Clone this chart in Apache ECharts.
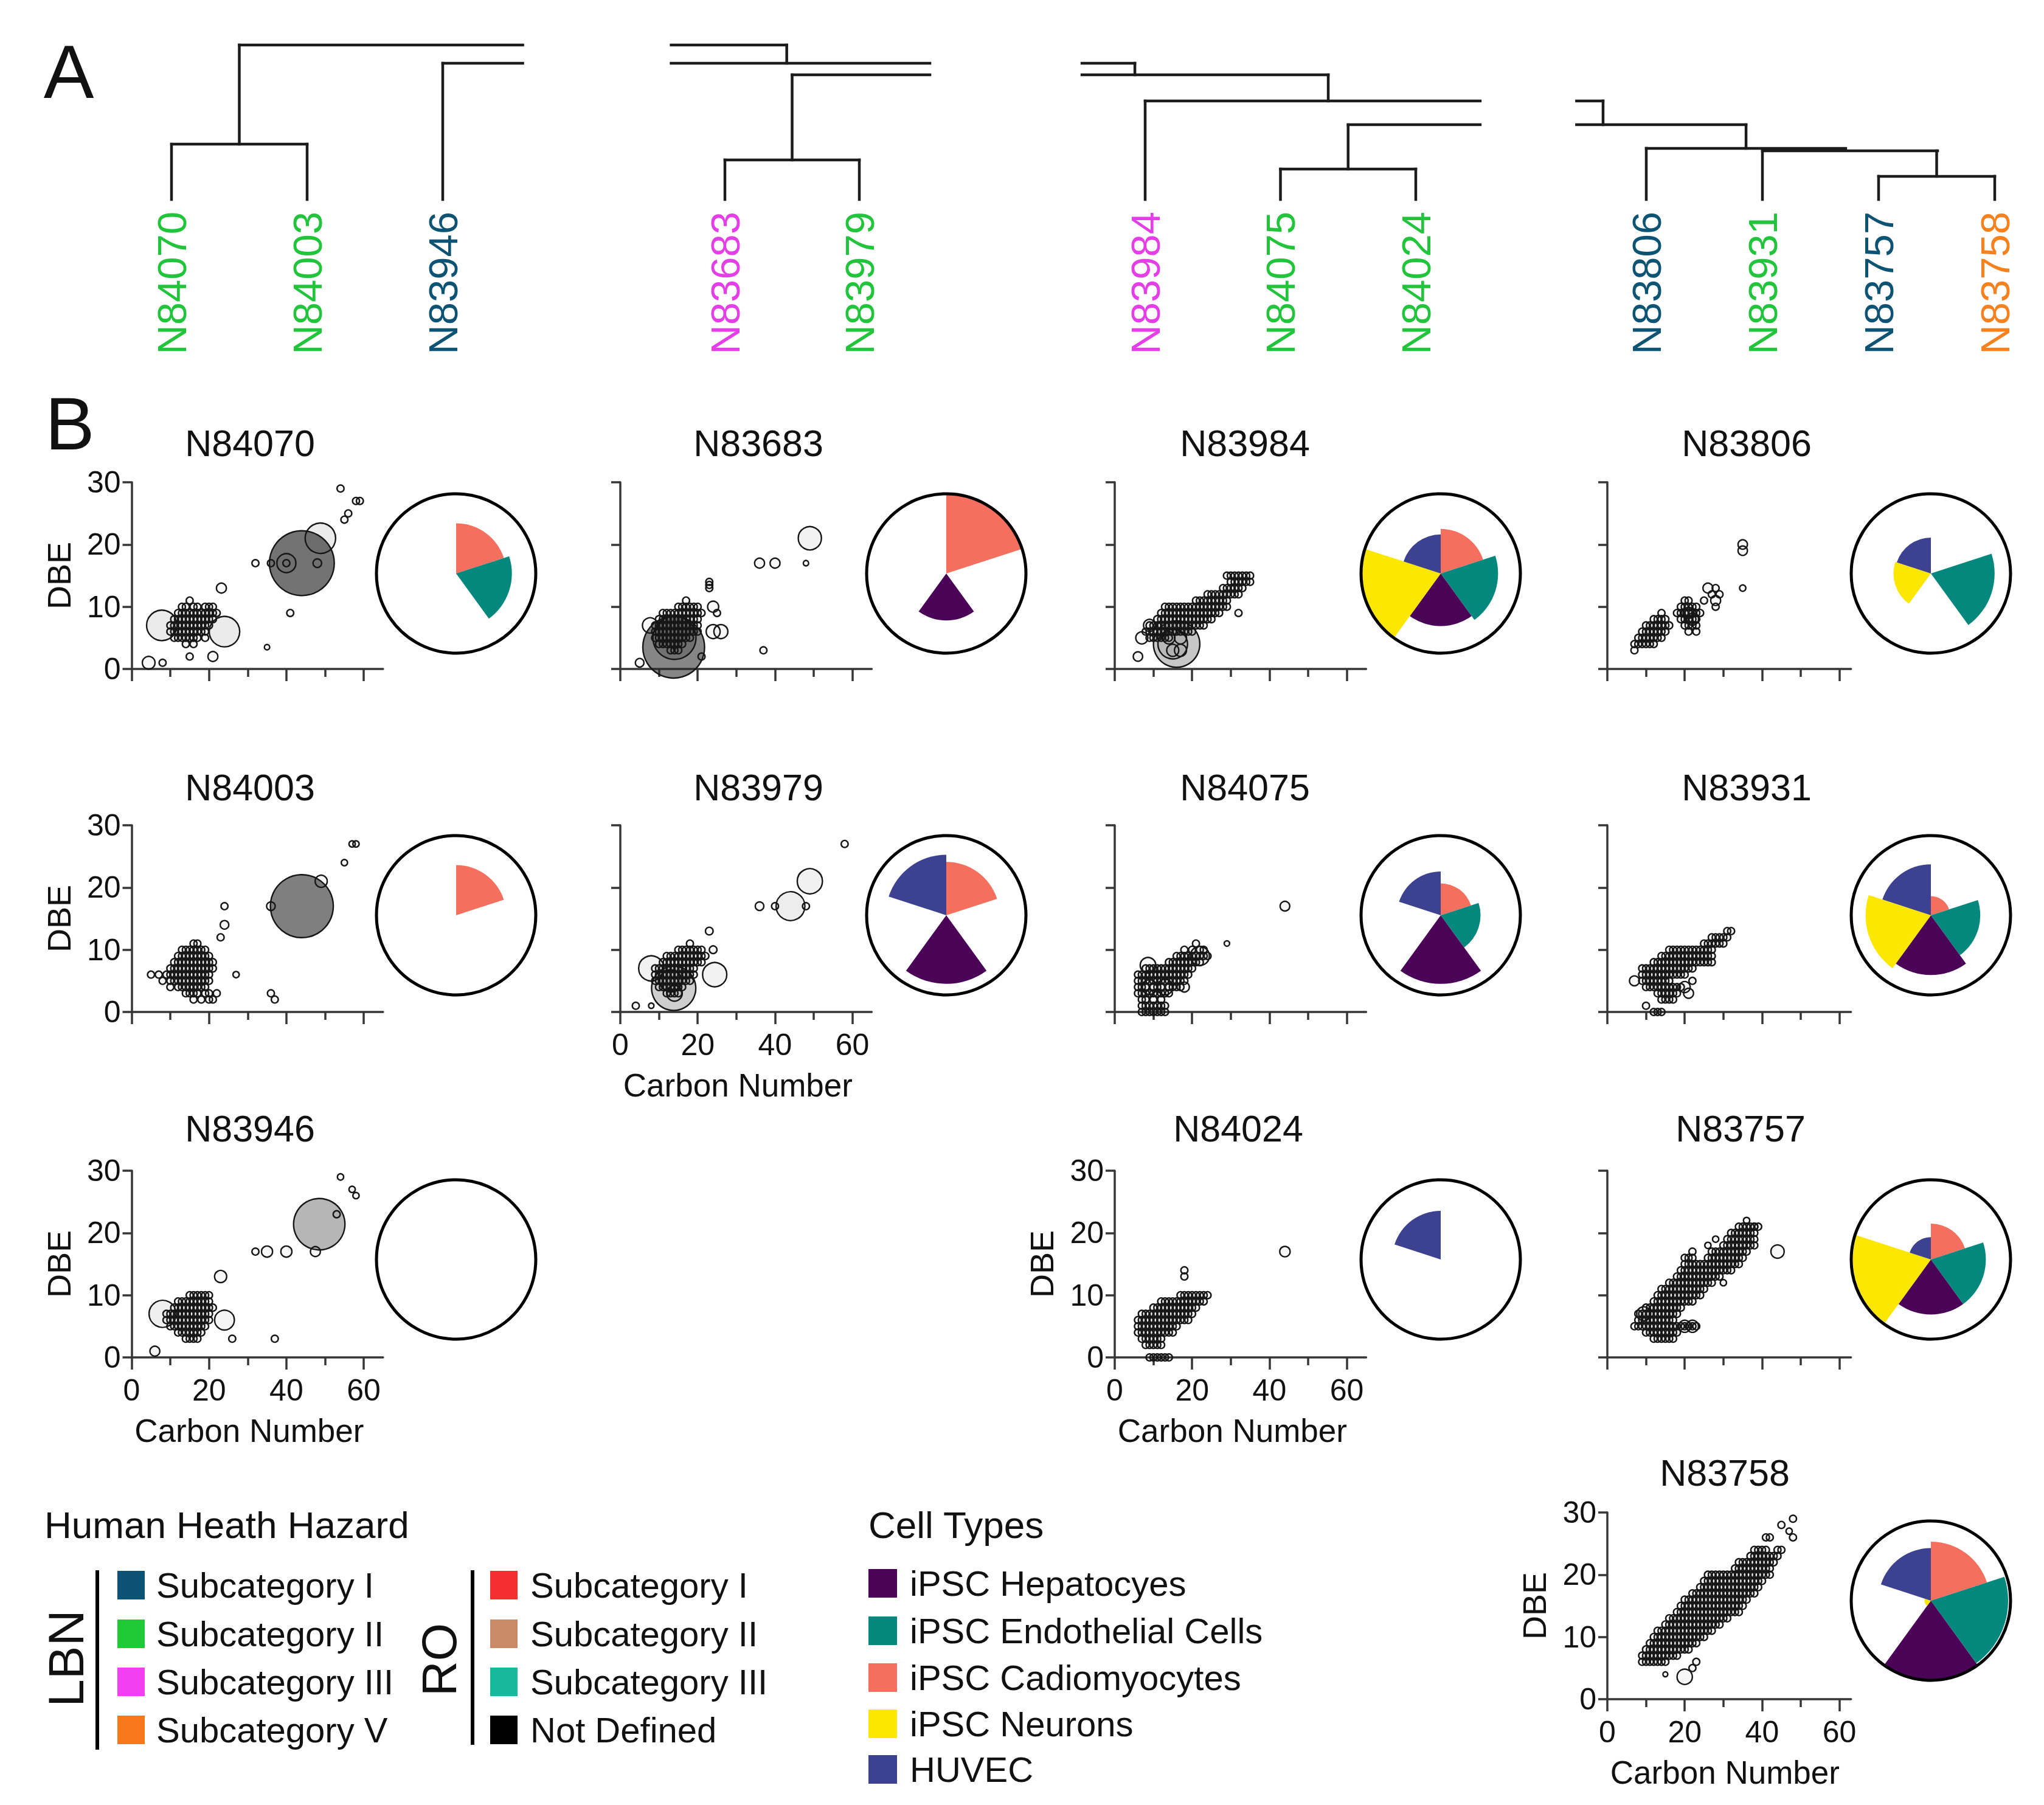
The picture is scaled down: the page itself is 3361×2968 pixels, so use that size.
<!DOCTYPE html>
<html><head><meta charset="utf-8">
<script src="https://cdn.jsdelivr.net/npm/echarts@6/dist/echarts.min.js"></script>
<style>html,body{margin:0;padding:0;background:#fff}#c{width:3361px;height:2968px}</style>
</head><body><div id="c"></div>
<script>
// ---------------- DATA ----------------
// Panel A dendrogram leaves (left to right in each of the four pieces)
const dendroLeaves = [
  ['N84070','N84003','N83946'],
  ['N83683','N83979'],
  ['N83984','N84075','N84024'],
  ['N83806','N83931','N83757','N83758']
];
const leafHazard = [
  ['LBN-II','LBN-II','LBN-I'],
  ['LBN-III','LBN-II'],
  ['LBN-III','LBN-II','LBN-II'],
  ['LBN-I','LBN-II','LBN-I','LBN-V']
];
// dendrogram links: [x1, h1, x2, h2] in (leaf index, linkage height)
const dendroSegs1 = [[0,0,0,3.58],[1,0,1,3.58],[0,3.58,1,3.58],[0.5,3.58,0.5,10],[0.5,10,2.59,10],[2,0,2,8.82],[2,8.82,2.59,8.82]];
const dendroSegs2 = [[-0.4,10,0.46,10],[0.46,10,0.46,8.82],[-0.4,8.82,1.525,8.82],[0.5,8.07,1.525,8.07],[0.5,8.07,0.5,2.56],[0,2.56,1,2.56],[0,0,0,2.56],[1,0,1,2.56]];
const dendroSegs3 = [[-0.467,8.82,-0.076,8.82],[-0.076,8.82,-0.076,8.07],[-0.467,8.07,1.353,8.07],[1.353,8.07,1.353,6.38],[0,6.38,2.476,6.38],[0,0,0,6.38],[1.5,4.84,2.476,4.84],[1.5,4.84,1.5,1.97],[1,1.97,2,1.97],[1,0,1,1.97],[2,0,2,1.97]];
const dendroSegs4 = [[-0.6,6.38,-0.372,6.38],[-0.372,6.38,-0.372,4.84],[-0.6,4.84,0.859,4.84],[0.859,4.84,0.859,3.31],[0,3.31,1.717,3.31],[0,0,0,3.31],[1,3.15,2.508,3.15],[1,0,1,3.15],[2.5,3.15,2.5,1.5],[2,1.5,3,1.5],[2,0,2,1.5],[3,0,3,1.5]];

// Panel B: bubbles [carbon number, DBE, relative abundance]
const bub_N84070 = [[44,17,86],[48.8,21,19],[40,17,7.4],[7.8,7,19],[24,6,19],[4.4,1,3.3],[23.2,13,2],[21,2,2],[48,17,1.5],[54,29,1],[58,27,1],[59,27,1],[56,25,1],[55,24,1],[32,17,1],[36,17,1],[40,17,1],[41,9,1],[35,3.5,0.6],[15,2,1],[8,1,1]];
const bub_N83683 = [[13.8,3.5,78],[14,5,38],[49,21,11],[7.7,7,4.8],[24,6,4],[26,6,4],[24,10,2.5],[36,17,2],[40,17,2],[48,17,0.6],[23,14,1],[23,13.5,1],[23,13,1],[25,9,1],[37,3,1],[5,1,1.5],[21,2,1],[17,11,1]];
const bub_N83984 = [[16,4,44],[15,4,18],[14,5,3],[17,5,3],[15,3,3],[17,3,3],[7,5,3],[9,7,3],[6,2,1.8],[32,9,1]];
const bub_N83806 = [[35,20,1.8],[35,19,1.8],[26,13,2],[28,11,2],[22,8,3],[21,9,2.5],[35,13,0.8],[28,13,1],[25,11,1],[28,10,1],[27,12,1],[29,12,1]];
const bub_N84003 = [[44,17,81],[49,21,3],[36,17,1.5],[58,27,0.8],[57,27,0.8],[55,24,0.8],[24,17,1],[24,14,1.5],[23,12,1],[36,3,1],[37,2,1],[27,6,0.8],[5,6,1]];
const bub_N83979 = [[13.8,3.8,40],[13,5,10],[14,3,5],[8,7,13],[49,21,13],[44,17,17],[24.4,6,12],[58,27,1],[40,17,1],[48,17,1],[36,17,1.5],[23,13,1.2],[24,10,1.2],[4,1,1],[8,1,0.6]];
const bub_N84075 = [[22,9,7.4],[8.6,7.5,5],[9,4,4.4],[13,4,5],[18,4,2],[44,17,1.9],[29,11,0.6]];
const bub_N83931 = [[20,4,2.5],[21,3,2],[7,5,2],[22,5,1],[10,1,1],[12,0,1],[13,0,1],[14,0,1]];
const bub_N83946 = [[48.5,21.4,54],[8,7,15],[24,6,8],[40,17,2.5],[35,17,2.5],[47.5,17,2],[23,13,3],[54,29,0.8],[57,27,0.8],[58,26,0.8],[53,23,1],[32,17,1],[6,1,2],[26,3,1],[37,3,1]];
const bub_N84024 = [[44,17,2.2]];
const bub_N83757 = [[44,17,3.6],[9.4,7,4],[20,5,3],[22,5,3],[36,22,0.8],[38,21,1],[22,17,1],[26,18,0.8],[28,19,0.8],[30,12,0.8]];
const bub_N83758 = [[20,3.6,4.8],[15,4,0.5],[22,5,1],[23,6,1],[48,29,1],[45,28,1],[47,27,0.8],[41,26,1],[42,26,1],[48,26,1]];

// Dense formula clusters, one row per DBE: [DBE, carbon numbers...]
const rows_N84070 = [[11,15],[10,13,14,16,17,19,20,21],[9,12,13,14,15,16,17,18,19,20,21,22],[8,11,12,13,14,15,16,17,18,19,20,21],[7,10,11,12,13,14,15,16,17,18,19,20],[6,10,11,12,13,14,15,16,17,18,19],[5,11,12,13,14,15,16,17,19],[4,14,16]];
const rows_N83683 = [[10,15,16,17,18,19,20],[9,11,12,13,14,15,16,17,18,19,20,21],[8,10,11,12,13,14,15,16,17,18,19,20],[7,9,10,11,12,13,14,15,16,17,18,19,20],[6,9,10,11,12,13,14,15,16,17,18,19,20],[5,9,10,11,12,13,14,15,16,17,18],[4,10,11,12,13,14,15,16],[3,13,14,15]];
const rows_N83984 = [[15,29,30,31,32,33,34,35],[14,30,31,32,33,34,35],[13,28,29,30,31,32,33],[12,24,25,26,27,28,29,30,31,32],[11,21,22,23,24,25,26,27,28,29],[10,13,14,15,16,17,18,19,20,21,22,23,24,25,26,27,28,29],[9,12,13,14,15,16,17,18,19,20,21,22,23,24,25,26,27],[8,11,12,13,14,15,16,17,18,19,20,21,22,23,24,25],[7,9,10,11,12,13,14,15,16,17,18,19,20,21,22,23],[6,8,9,10,11,12,13,14,15,16,17,18,19,20],[5,9,10,11,12,13,14]];
const rows_N83806 = [[11,20,21],[10,19,20,21,22,23],[9,14,18,19,20,21,22,23,24],[8,12,13,14,15,19,20,21,22,23],[7,10,11,12,13,14,15,16,20,21,22,23],[6,9,10,11,12,13,14,15,21,23],[5,8,9,10,11,12,13,14],[4,7,8,9,10,11,12],[3,7]];
const rows_N84003 = [[11,16,17],[10,13,14,15,16,17,18,19],[9,12,13,14,15,16,17,18,19,20],[8,11,12,13,14,15,16,17,18,19,20,21],[7,10,11,12,13,14,15,16,17,18,19,20,21],[6,7,9,10,11,12,13,14,15,16,17,18,19,20],[5,8,10,11,12,13,14,15,16,17,18,19,20],[4,10,12,13,14,15,16,17,18,19],[3,14,15,16,17,19,20,22],[2,16,18,20,21]];
const rows_N83979 = [[11,18],[10,15,16,17,18,19,20,21],[9,12,13,14,15,16,17,18,19,20,21,22],[8,11,12,13,14,15,16,17,18,19,20,21],[7,9,10,11,12,13,14,15,16,17,18,19],[6,9,10,11,12,13,14,15,16,17,18,19],[5,9,10,11,12,13,14,15,16,17,18],[4,10,11,12,13,14,15,16],[3,12,13,14,15]];
const rows_N84075 = [[11,21],[10,18,20,22,23],[9,16,17,18,19,20,21,22,23,24],[8,14,15,16,17,18,19,20,21,22],[7,8,9,10,11,12,13,14,15,16,17,18,19,20],[6,6,7,8,9,10,11,12,13,14,15,16,17,18,19],[5,6,7,8,9,10,11,12,13,14,15,16,17,18],[4,6,7,8,10,11,12,14,15,16,17],[3,6,7,8,9,10,11,12,13,14],[2,7,8,10,12],[1,7,8,9,10,11,12,13],[0,7,8,9,10,11,12,13]];
const rows_N83931 = [[13,31,32],[12,27,28,29,30,31],[11,25,26,27,28,29,30],[10,16,17,18,19,20,21,22,23,24,25,26,27],[9,14,15,16,17,18,19,20,21,22,23,24,25,26,27],[8,12,13,14,15,16,17,18,19,20,21,22,23,24,25,26,27],[7,9,10,11,12,13,14,15,16,17,18,19,20,21,22],[6,9,10,11,12,13,14,15,16,17,18,19,20],[5,9,10,11,12,13,14,15,16],[4,10,11,12,13,14,15,16,17,18,19],[3,13,14,15,16,17,18],[2,14,15,16,17]];
const rows_N83946 = [[10,15,16,17,18,19,20],[9,12,13,14,15,16,17,18,19,20],[8,11,12,13,14,15,16,17,18,19,20,21],[7,9,10,11,12,13,14,15,16,17,18,19,20],[6,9,10,11,12,13,14,15,16,17,18,19,20],[5,10,11,12,13,14,15,16,17,18,19],[4,12,13,14,15,16,17,18],[3,14,15,16,17]];
const rows_N84024 = [[14,18],[13,18],[10,17,18,19,20,21,22,23,24],[9,12,13,14,15,16,17,18,19,20,21,22,23],[8,10,11,12,13,14,15,16,17,18,19,20,21],[7,7,8,9,10,11,12,13,14,15,16,17,18,19,20],[6,6,7,8,9,10,11,12,13,14,15,16,17,18,19],[5,6,7,8,9,10,11,12,13,14,15,16],[4,6,7,8,9,10,11,12,13,14,15],[3,7,8,9,10,11,12],[2,8,9,10,11,12],[0,9,10,11,12,13,14]];
const rows_N83757 = [[21,34,35,36,37,38,39],[20,32,33,34,35,36,37,38],[19,31,32,33,34,35,36,37,38],[18,30,31,32,33,34,35,36,37,38],[17,27,28,29,30,31,32,33,34,35,36],[16,20,21,22,26,27,28,29,30,31,32,33,34,35],[15,20,21,22,23,24,25,26,27,28,29,30,31,32,33,34],[14,19,20,21,22,23,24,25,26,27,28,29,30,31,32],[13,18,19,20,21,22,23,24,25,26,27,28,29],[12,16,17,18,19,20,21,22,23,24,25,26,27],[11,14,15,16,17,18,19,20,21,22,23,24,25],[10,13,14,15,16,17,18,19,20,21,22,23,24],[9,12,13,14,15,16,17,18,19,20,21,22],[8,10,11,12,13,14,15,16,17,18,19],[7,8,9,10,11,12,13,14,15,16,17,18],[6,8,9,10,11,12,13,14,15,16,17],[5,7,8,9,10,11,12,13,14,15,16,17,18,19,20,21,22,23],[4,10,11,12,13,14,15,16,17,18],[3,12,13,14,15,16,17]];
const rows_N83758 = [[24,38,39,40,41,44,45],[23,37,38,39,40,41,42,43,44],[22,34,35,36,37,38,39,40,41,42,43],[21,33,34,35,36,37,38,39,40,41,42],[20,26,27,28,29,30,31,32,33,34,35,36,37,38,39,40,41,42],[19,25,26,27,28,29,30,31,32,33,34,35,36,37,38,39,40],[18,24,25,26,27,28,29,30,31,32,33,34,35,36,37,38,39],[17,22,23,24,25,26,27,28,29,30,31,32,33,34,35,36,37,38],[16,20,21,22,23,24,25,26,27,28,29,30,31,32,33,34,35,36],[15,19,20,21,22,23,24,25,26,27,28,29,30,31,32,33,34,35],[14,18,19,20,21,22,23,24,25,26,27,28,29,30,31,32,33,34],[13,16,17,18,19,20,21,22,23,24,25,26,27,28,29,30,31],[12,15,16,17,18,19,20,21,22,23,24,25,26,27,28,29],[11,13,14,15,16,17,18,19,20,21,22,23,24,25,26,27],[10,12,13,14,15,16,17,18,19,20,21,22,23,24,25],[9,11,12,13,14,15,16,17,18,19,20,21,22,23],[8,10,11,12,13,14,15,16,17,18,19,20,21],[7,9,10,11,12,13,14,15,16,17,18],[6,9,10,11,12,13,14,15]];

// Rose charts: relative response per cell type (clockwise from 12 o'clock)
const cellTypes = ['iPSC Cadiomyocytes','iPSC Endothelial Cells','iPSC Hepatocyes','iPSC Neurons','HUVEC'];
const rose_N84070 = [63,70,0,0,0];
const rose_N83683 = [99,0,59,0,0];
const rose_N83984 = [56,72,66,99,49];
const rose_N83806 = [0,80,0,47,45];
const rose_N84003 = [63,0,0,0,0];
const rose_N83979 = [67,0,86,0,76];
const rose_N84075 = [40,50,86,0,55];
const rose_N83931 = [24,62,75,82,64];
const rose_N83946 = [0,0,0,0,0];
const rose_N84024 = [0,0,0,0,61];
const rose_N83757 = [45,69,69,98,28];
const rose_N83758 = [74,97,99,8,66];

// Axis tick values / labels
const xMajorTicks = [0,20,40,60];
const xMinorTicks = [10,30,50];
const yTicks = [0,10,20,30];

// Legend text
const lbnItems = ['Subcategory I','Subcategory II','Subcategory III','Subcategory V'];
const roItems = ['Subcategory I','Subcategory II','Subcategory III','Not Defined'];
const cellLegendOrder = [2,1,0,3,4];

// ---------------- STYLE / LAYOUT ----------------
const FONT = "'Liberation Sans', Arial, Helvetica, sans-serif";
const hazardColor = {'LBN-I':'#0d5474','LBN-II':'#22c43c','LBN-III':'#e43fe6','LBN-V':'#f5821f'};
const lbnColors = ['#0b5274','#1fca35','#f23ff2','#f7781a'];
const roColors = ['#f52f2f','#c88a67','#17b89c','#000000'];
const cellColors = ['#f46f5e','#04887e','#4a0356','#fde600','#3c4290'];

const dendroLeft = [282, 1192, 1883, 2707];
const dendroSpacing = [223, 221, 222.5, 191];
const dendroSegs = [dendroSegs1, dendroSegs2, dendroSegs3, dendroSegs4];

const panelNames = ['N84070','N83683','N83984','N83806','N84003','N83979','N84075','N83931','N83946','N84024','N83757','N83758'];
const bubbles = {N84070:bub_N84070,N83683:bub_N83683,N83984:bub_N83984,N83806:bub_N83806,N84003:bub_N84003,N83979:bub_N83979,N84075:bub_N84075,N83931:bub_N83931,N83946:bub_N83946,N84024:bub_N84024,N83757:bub_N83757,N83758:bub_N83758};
const clusters = {N84070:rows_N84070,N83683:rows_N83683,N83984:rows_N83984,N83806:rows_N83806,N84003:rows_N84003,N83979:rows_N83979,N84075:rows_N84075,N83931:rows_N83931,N83946:rows_N83946,N84024:rows_N84024,N83757:rows_N83757,N83758:rows_N83758};
const roses = {N84070:rose_N84070,N83683:rose_N83683,N83984:rose_N83984,N83806:rose_N83806,N84003:rose_N84003,N83979:rose_N83979,N84075:rose_N84075,N83931:rose_N83931,N83946:rose_N83946,N84024:rose_N84024,N83757:rose_N83757,N83758:rose_N83758};
const layout = {
  N84070:{c:0,r:0,yl:1}, N83683:{c:1,r:0}, N83984:{c:2,r:0}, N83806:{c:3,r:0},
  N84003:{c:0,r:1,yl:1}, N83979:{c:1,r:1,xl:1}, N84075:{c:2,r:1}, N83931:{c:3,r:1},
  N83946:{c:0,r:2,yl:1,xl:1}, N84024:{c:2,r:2,yl:1,xl:1,tx:2036}, N83757:{c:3,r:2,tx:2862},
  N83758:{c:3,r:3,yl:1,xl:1,tx:2836}
};
const colAxisX = [216.5,1020,1833,2643];
const colXmax = [65,65,65,63];
const rowTopY = [793,1357,1925,2487];
const PXC = 6.36, GRID_H = 307;
const titleX = [411,1247,2047,2872];
const titleY = [729,1295,1856,2422];
const pieX = [750,1556,2369,3175];
const pieY = [943,1505,2071,2632];
const AX = '#363636';

function rowsToPoints(rows){ const out=[]; rows.forEach(r=>{ for(let i=1;i<r.length;i++) out.push([r[i], r[0], 1]); }); return out; }
function bubbleSize(v){ return 11.5*Math.sqrt(v[2]); }
function bubbleFill(p){ const a=p.value[2]; const al=Math.min(0.68, 0.03 + 0.62*Math.pow(a/86,1.5)); return 'rgba(40,40,40,'+al.toFixed(3)+')'; }
function segRender(params, api){
  const a = api.coord([api.value(0), api.value(1)]);
  const b = api.coord([api.value(2), api.value(3)]);
  return {type:'line', shape:{x1:a[0],y1:a[1],x2:b[0],y2:b[1]}, style:{stroke:'#1c1c1c', lineWidth:4.5, lineCap:'square'}};
}

const grids=[], xAxes=[], yAxes=[], series=[], polars=[], angleAxes=[], radiusAxes=[], G=[];

// Panel A
dendroLeaves.forEach((leaves, g)=>{
  grids.push({left:dendroLeft[g], top:74, width:dendroSpacing[g]*(leaves.length-1), height:254, outerBoundsMode:'none', containLabel:false});
  xAxes.push({gridIndex:g, type:'value', min:0, max:leaves.length-1, interval:1,
    axisLine:{show:false}, axisTick:{show:false}, splitLine:{show:false},
    axisLabel:{show:true, rotate:90, margin:20, fontSize:67, fontFamily:FONT,
      formatter:(v)=>{ const i=Math.round(+v); return (Math.abs(+v-i)<1e-6 && leaves[i]) ? leaves[i] : ''; },
      color:(v)=> hazardColor[leafHazard[g][Math.round(+v)]] || '#000'}});
  yAxes.push({gridIndex:g, type:'value', min:0, max:10, show:false});
  series.push({type:'custom', xAxisIndex:g, yAxisIndex:g, clip:false, silent:true, renderItem:segRender, data:dendroSegs[g]});
});

// Panel B
panelNames.forEach((name, k)=>{
  const L = layout[name];
  const gi = grids.length;
  const xmax = colXmax[L.c];
  grids.push({left:colAxisX[L.c], top:rowTopY[L.r], width:xmax*PXC, height:GRID_H, outerBoundsMode:'none', containLabel:false});
  const xi = xAxes.length;
  const shift = (xmax/2 - 30.4)*PXC;
  xAxes.push({gridIndex:gi, type:'value', position:'bottom', min:0, max:xmax, interval:20,
    axisLine:{show:true, onZero:false, lineStyle:{color:AX, width:3.5}},
    axisTick:{show:true, customValues:xMajorTicks, length:20, lineStyle:{color:AX, width:3.5}},
    minorTick:{show:false}, splitLine:{show:false},
    axisLabel:{show:!!L.xl, customValues:xMajorTicks, fontSize:50, fontFamily:FONT, color:'#111', margin:29},
    name: L.xl ? 'Carbon Number' : '', nameLocation:'middle', nameGap:94,
    nameTextStyle:{fontSize:53, fontFamily:FONT, color:'#111', padding:[0, 2*shift, 0, 0]}});
  xAxes.push({gridIndex:gi, type:'value', position:'bottom', min:0, max:xmax, interval:10,
    axisLine:{show:false}, axisTick:{show:true, customValues:xMinorTicks, length:13, lineStyle:{color:AX, width:3.5}},
    axisLabel:{show:false}, splitLine:{show:false}});
  const yi = yAxes.length;
  yAxes.push({gridIndex:gi, type:'value', min:0, max:30, interval:10,
    axisLine:{show:true, onZero:false, lineStyle:{color:AX, width:3.5}},
    axisTick:{show:true, customValues:yTicks, length:15, lineStyle:{color:AX, width:3.5}},
    splitLine:{show:false},
    axisLabel:{show:!!L.yl, customValues:yTicks, fontSize:50, fontFamily:FONT, color:'#111', margin:18},
    name: L.yl ? 'DBE' : '', nameLocation:'middle', nameGap:93,
    nameTextStyle:{fontSize:54, fontFamily:FONT, color:'#111'}});
  const common = {type:'scatter', xAxisIndex:xi, yAxisIndex:yi, symbol:'circle', symbolSize:bubbleSize, silent:true,
    itemStyle:{color:bubbleFill, borderColor:'#161616', borderWidth:2.4, opacity:1}};
  series.push(Object.assign({}, common, {data:bubbles[name].slice().sort((a,b)=>b[2]-a[2])}));
  series.push(Object.assign({}, common, {data:rowsToPoints(clusters[name])}));

  polars.push({center:[pieX[L.c], pieY[L.r]], radius:[0,131]});
  angleAxes.push({polarIndex:k, type:'category', data:cellTypes, startAngle:90, clockwise:true, boundaryGap:true, z:5,
    axisLine:{show:true, lineStyle:{color:'#000', width:5}}, axisTick:{show:false}, axisLabel:{show:false},
    splitLine:{show:false}, splitArea:{show:false}});
  radiusAxes.push({polarIndex:k, type:'value', min:0, max:100,
    axisLine:{show:false}, axisTick:{show:false}, axisLabel:{show:false}, splitLine:{show:false}, splitArea:{show:false}});
  series.push({type:'bar', coordinateSystem:'polar', polarIndex:k, barCategoryGap:'0%', silent:true,
    data: roses[name].map((v,i)=>({value:v, itemStyle:{color:cellColors[i]}}))});

  // panel title
  G.push({type:'text', x:(L.tx||titleX[L.c]), y:titleY[L.r], style:{text:name, fontSize:61, fontFamily:FONT, fill:'#111', align:'center', verticalAlign:'middle', textAlign:'center', textVerticalAlign:'middle'}});
});

function txt(x,y,text,fs,opt){ opt=opt||{}; G.push({type:'text', x:x, y:y, rotation:opt.rot||0,
  style:{text:text, fontSize:fs, fontFamily:FONT, fill:opt.fill||'#111', align:opt.align||'left', verticalAlign:'middle', textAlign:opt.align||'left', textVerticalAlign:'middle'}}); }
function box(x,y,w,h,fill){ G.push({type:'rect', shape:{x:x,y:y,width:w,height:h}, style:{fill:fill}}); }

// panel letters
txt(113,118,'A',124,{align:'center'});
txt(115,697,'B',122,{align:'center'});

// Legend: hazard
txt(73,2507,'Human Heath Hazard',62);
txt(108,2727,'LBN',82,{align:'center', rot:Math.PI/2});
box(157,2582,6,295,'#000');
const legY = [2606,2686,2765,2844];
lbnItems.forEach((t,i)=>{ box(193,legY[i]-23,45,47,lbnColors[i]); txt(257,legY[i],t,58); });
txt(722,2729,'RO',80,{align:'center', rot:Math.PI/2});
box(774,2582,6,287,'#000');
roItems.forEach((t,i)=>{ box(806,legY[i]-23,45,47,roColors[i]); txt(872,legY[i],t,58); });
// Legend: cell types
txt(1428,2507,'Cell Types',62);
const cellY = [2603,2681,2758,2834,2909];
cellLegendOrder.forEach((ci,i)=>{ box(1428,cellY[i]-23,47,47,cellColors[ci]); txt(1496,cellY[i],cellTypes[ci],58); });

const chart = echarts.init(document.getElementById('c'), null, {renderer:'svg', width:3361, height:2968});
chart.setOption({
  backgroundColor:'#ffffff',
  animation:false,
  textStyle:{fontFamily:FONT},
  grid:grids, xAxis:xAxes, yAxis:yAxes,
  polar:polars, angleAxis:angleAxes, radiusAxis:radiusAxes,
  series:series,
  graphic:{elements:G}
});
</script></body></html>
